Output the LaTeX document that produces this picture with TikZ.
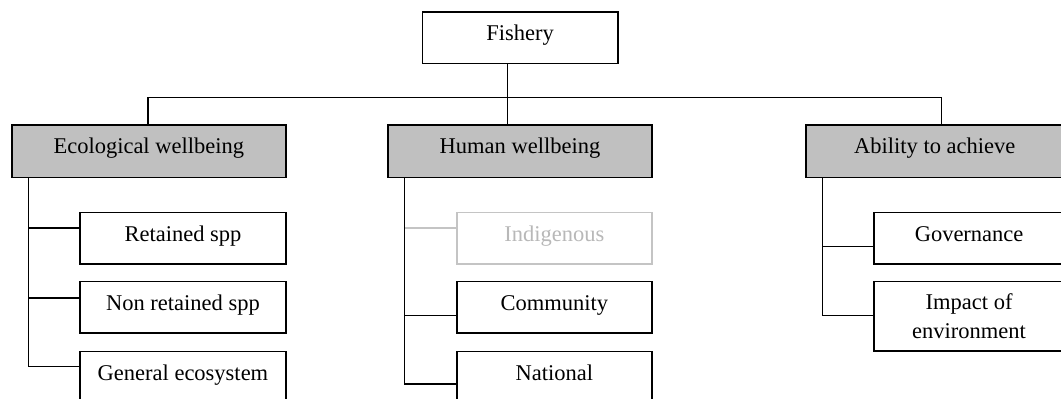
\documentclass[tikz,border=0pt]{standalone}
\usepackage{fontspec}
\setmainfont{Liberation Serif}
\definecolor{headgray}{HTML}{C0C0C0}
\definecolor{palegray}{HTML}{C4C4C4}
\definecolor{paletext}{HTML}{B8B8B8}
\begin{document}
\begin{tikzpicture}[x=0.5pt,y=-0.5pt,
  font=\fontsize{11.25}{14.2}\selectfont,
  boxbase/.style={draw=black, line width=0.8pt, fill=white, inner sep=0pt, anchor=north west},
  box/.style={boxbase, text height=14.4pt, text depth=11.5pt},
  headbox/.style={box, fill=headgray, text depth=11.8pt},
  conn/.style={draw=black, line width=0.8pt},
  paleconn/.style={draw=palegray, line width=0.8pt}]
\useasboundingbox (0,0) rectangle (1061,399);
\clip (0,0) rectangle (1061,399);
% boxes
\node[box, minimum width=97.65pt] (fish) at (421.7,11) {Fishery};
\node[headbox, minimum width=137pt] (eco) at (11,124.3) {Ecological wellbeing};
\node[headbox, minimum width=131.85pt] (hum) at (387.3,124.3) {Human wellbeing};
\node[headbox, minimum width=129pt] (abl) at (805,124.3) {Ability to achieve};
\node[box, minimum width=102.85pt] (ret) at (79.3,211.7) {Retained spp};
\node[box, minimum width=102.85pt] (non) at (79.3,280.7) {Non retained spp};
\node[box, minimum width=102.85pt] (gen) at (79.3,350.7) {General ecosystem};
\node[box, draw=palegray, text=paletext, minimum width=97.5pt] (ind) at (456,211.7) {Indigenous};
\node[box, minimum width=97.5pt] (com) at (456,280.7) {Community};
\node[box, minimum width=97.5pt] (nat) at (456,350.7) {National};
\node[box, minimum width=95pt] (gov) at (873.3,211.7) {Governance};
\node[boxbase, minimum width=95pt, minimum height=34.8pt, align=center] (imp) at (873.3,280.7) {Impact of\\environment};
% top level connectors
\coordinate (hubx) at (507.3,0);
\coordinate (busL) at (147.7,97.7);
\coordinate (busR) at (941.3,97.7);
\draw[conn] (fish.south -| hubx) -- (hum.north -| hubx);
\draw[conn] (eco.north -| busL) -- (busL) -- (busR) -- (abl.north -| busR);
% ecological branch
\coordinate (eb1) at (28.3,228.3);
\coordinate (eb2) at (28.3,298.3);
\coordinate (eb3) at (28.3,366.7);
\draw[conn] (eco.south -| eb1) -- (eb3) -- (eb3 -| gen.west);
\draw[conn] (eb1) -- (eb1 -| ret.west);
\draw[conn] (eb2) -- (eb2 -| non.west);
% human branch
\coordinate (hb1) at (404.3,228.3);
\coordinate (hb2) at (404.3,315.7);
\coordinate (hb3) at (404.3,384.3);
\draw[paleconn] (hb1) -- (hb1 -| ind.west);
\draw[conn] (hum.south -| hb1) -- (hb3) -- (hb3 -| nat.west);
\draw[conn] (hb2) -- (hb2 -| com.west);
% ability branch
\coordinate (ab1) at (822.3,246.7);
\coordinate (ab2) at (822.3,315.7);
\draw[conn] (abl.south -| ab1) -- (ab2) -- (ab2 -| imp.west);
\draw[conn] (ab1) -- (ab1 -| gov.west);
\end{tikzpicture}
\end{document}
